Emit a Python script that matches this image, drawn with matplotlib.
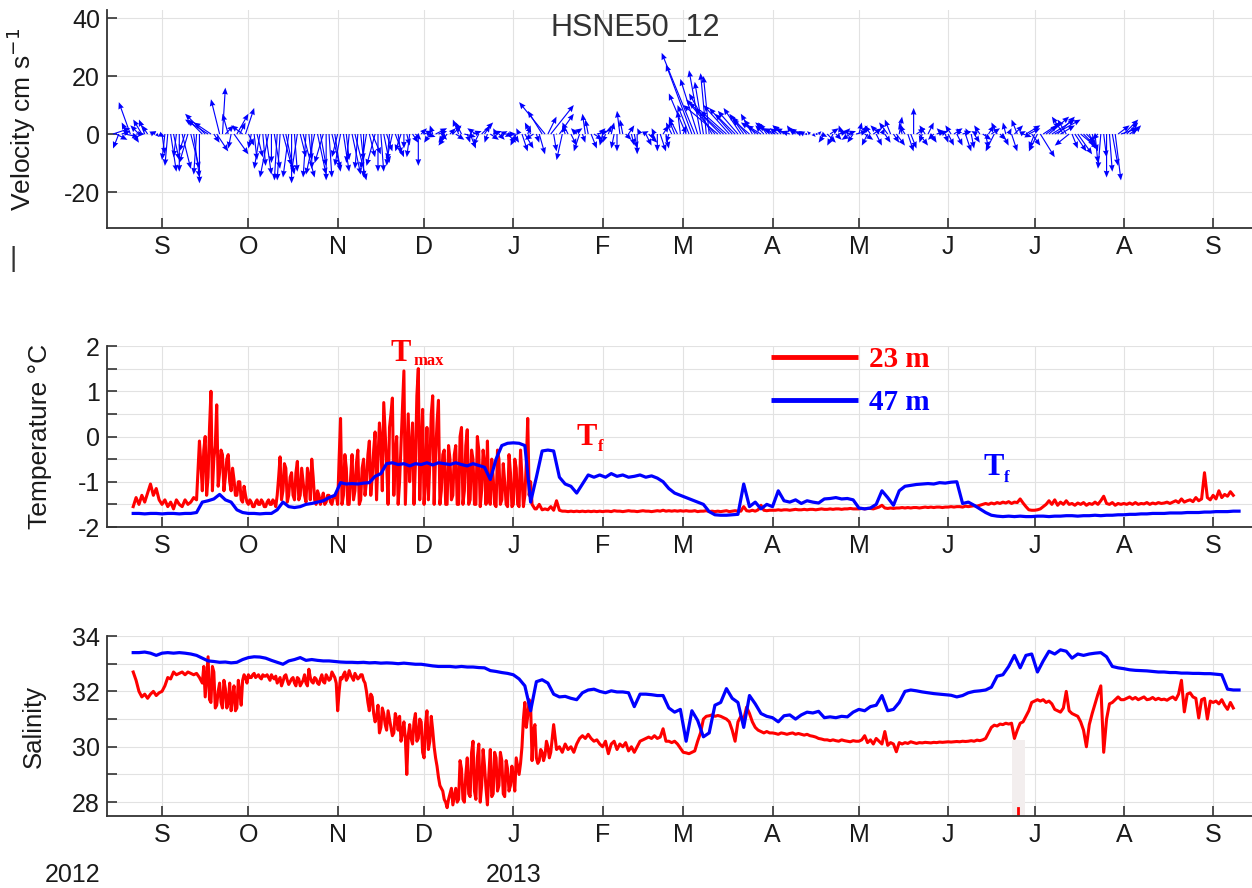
import numpy as np
import matplotlib
matplotlib.use("Agg")
import matplotlib.pyplot as plt
from matplotlib.ticker import FuncFormatter

plt.rcParams['font.family'] = ['Liberation Sans', 'DejaVu Sans']
plt.rcParams['axes.unicode_minus'] = False

# ---------------------------------------------------------------------------
# Time axis: days since 1 Sep 2012
# ---------------------------------------------------------------------------
month_days = [0, 30, 61, 91, 122, 153, 181, 212, 242, 273, 303, 334, 365]
month_labels = ['S', 'O', 'N', 'D', 'J', 'F', 'M', 'A', 'M', 'J', 'J', 'A', 'S']
year_labels = ['2012', '2013']
x_range = (-19.1, 378.5)

# ---------------------------------------------------------------------------
# Current sticks (cm/s): odd days from 15 Aug 2012, even days from 16 Aug 2012
# ---------------------------------------------------------------------------
vel_start, vel_step = -17, 2
vel_u = [6, -2, 5, -4, 3, -3, -2, 1, 2,
         -1, 2, -1, 3, -3, 2, 0, -7,
         -6, 4, 1, -2, 5, 2, 3,
         -1, 2, 1, -3, 2, -1, 3, 0, -2, 4, 1, -3, 2, 0, 3, -2, 2, -1, 4, 1,
         -2, 3, 0, 2, -1, 3, -2, 1, 2, 0,
         3, -2, 4, 2, -3, 3, -2, 4, 2, -3, 4, -1, 3, 2, 4, -2,
         -2, 2, 1, -3, 2, -9, 8, 0, -2, -2, 3, -2, -1, 2, 4,
         -1, 1, -1, -1, 2, 1, 0, 2, 3, -1, 2, 1, -2, -3, 1,
         -4, -11.5, -4, -2, -8, -12, -10, -9, -7,
         -6, -5, -4, -6, -3, -5, -4, -3, -4, -2, -3, -2, -1, 1,
         2, 3, -2, 3, 2, -3, 4, 2, -2, 3, -3, 2, -2, 3, -1, 2, 0, 3, -2, 2,
         3, -2, 2, 3, -1, 2, 1, -2, 3, 2, -3, 2, -1, 2, -2,
         3, 4, -2, 5, 4, 8, 6, -4, -5, 4, 6, 3, 2, -2, 1, 1, 2, 6, 4, 3]
vel_v = [2, -5, -1, 11, 0, 5, 3, 1, -1,
         -9, -13, -8, -12, -10, -15, -17, 7,
         4, -6, 16, 7, -7, 4, 9,
         -5, -8, -11, -15, -12, -16, -14, -17, -13, -15, -9, -14, -11, -16,
         -12, -8, -13, -10, -16, -9, -12, -7, -13, -10, -11, -8, -6, -4, -3, -11,
         1, -3, 2, -2, -4, 3, 5, -1, -5, 2, 4, -3, 1, -2, 0, -1,
         -4, -6, 3, -2, -7, 11, 10, 0, -9, 4, 2, -6, 7, -5, 1,
         -4, 3, -5, 8, -2, -4, -7, 1, -3, 2, -6, -5, 4, 6, 3,
         10, 28, 22, 21, 14, 10, 9, 10, 7,
         9, 6, 7, 4, 3, 4, 2, 3, 2, 3, 2, 1, 1, 0,
         -1, -3, -4, 1, 2, -2, 1, 3, -4, 2, 3, -3, 5, -4, 4, -6, 9, -4, 3, -3,
         1, 2, -4, 2, 2, -6, -5, 1, -2, 3, -6, -2, 4, -6, 5,
         -1, 2, -5, -8, 3, 5, 6, 6, -4, -6, -5, -3, -6, -2, -8, -13, -16, 2, 4, 3]

vel2_start, vel2_step = -16, 2
vel2_u = [4, 3, -2, 2, -3, -2, 2, 1,
          1, -1, 2, 0, -2, 3, -1, -5,
          -8, 2, -3, 3, -1, 4, -4, 2,
          1, -2, 2, 0, -1, 3, -2, 1, 2, -1, 0, 3, -3, 1, 2,
          -2, 1, 3, -1, 0, 2, -3, 1, 2, -2, 1, 0, -1, 2,
          2, 3, -1, 3, -2, 2, 3, -2, 1, 3, -2, 2, 3, -1, 2, 3,
          2, -1, 3, -2, 1, -5, 3, 1, 5, -1, 2, -2, 1, -1, 3,
          2, -1, 1, 0, -1, 2, 1, -1, 2, 1, 0, 2, -1, -2, -1,
          -6, -9, -6, -3, -2, -10, -11, -9, -8,
          -7, -5, -6, -4, -5, -3, -5, -3, -4, -3, -2, -2, -1, 1,
          1, -2, 3, 2, -1, 3, -2, 1, 3, -2, 2, 1, -3, 2, 1, -2, 2, 3,
          -1, 2, -2, 3, 1, -2, 2, 3, -1, 2, -2, 1, 3, -2, 2, 1, 3,
          2, 5, 3, -3, 6, 7, 9, 5, -3, 2, 5, 4, 2, 1, -1, 0, 2, 4, 5, 3]
vel2_v = [-2, 1, 4, -3, 3, 5, 1, -1,
          -7, -11, -9, -13, -6, -12, -14, 5,
          5, -3, 12, 3, -5, 7, 3, -4,
          -9, -12, -14, -10, -16, -11, -15, -13, -8, -15, -12, -14, -10, -15, -13,
          -11, -9, -14, -12, -15, -8, -11, -13, -6, -9, -7, -5, -8, -2,
          2, -1, 3, 1, -3, 2, -2, 4, -3, 1, -4, 3, -2, 2, 1, -3,
          -3, 2, -5, 4, -3, 8, 6, -6, 7, 3, -4, 2, -3, 5, -2,
          2, -3, 4, -6, 5, 3, -5, 2, -4, -2, -6, 3, -3, 5, 8,
          14, 24, 19, 18, 20, 12, 11, 8, 9,
          8, 7, 5, 5, 3, 4, 3, 2, 3, 1, 2, 1, 0, -1,
          1, -3, 2, -2, 3, 1, -3, 4, -2, 3, -4, 2, 4, -3, 6, 3, -5, 2,
          -3, 4, -2, 1, -3, 3, -4, 1, 2, -3, 3, -5, 2, 4, -4, 2, 3,
          1, 3, -4, -6, 4, 6, 5, 3, 5, -5, -7, -4, -5, -10, -12, -15, -11, 3, 5, 2]

# ---------------------------------------------------------------------------
# Temperature (deg C)
# 23 m: daily values from 22 Aug 2012, plus mid-day values through the
#       noisy autumn period; 47 m: every 2 days from 22 Aug 2012
# ---------------------------------------------------------------------------
temp23_start = -10
temp23 = (
    [-1.55, -1.35, -1.5, -1.3, -1.45, -1.25, -1.05, -1.3, -1.15, -1.4]
    # Sep
    + [-1.5, -1.4, -1.55, -1.45, -1.6, -1.4, -1.5, -1.55, -1.4, -1.5,
       -1.45, -1.35, -1.4, -0.1, -1.2, 0.0, -0.9, 1.0, -0.5, 0.7,
       -0.8, -0.4, -0.9, -0.4, -1.2, -0.95, -1.3, -1.0, -1.45, -1.3]
    # Oct
    + [-1.5, -1.45, -1.55, -1.4, -1.5, -1.45, -1.55, -1.4, -1.5, -1.45,
       -1.3, -0.45, -1.2, -0.7, -1.3, -0.8, -1.4, -0.55, -1.3, -1.0,
       -1.45, -0.9, -0.5, -1.4, -1.2, -1.5, -1.25, -1.45, -1.3, -1.5, -1.35]
    # Nov
    + [-1.5, 0.4, -1.3, -0.7, -1.5, -0.4, -1.2, -0.3, -1.4, -0.5,
       -1.0, -0.1, -0.9, 0.1, -0.5, -0.1, 0.75, -0.6, 0.2, 0.85,
       -0.4, -1.5, -0.2, 1.45, -0.5, -1.0, 0.3, -0.6, 1.5, -0.3]
    # Dec
    + [-1.5, 0.2, -0.6, 0.9, -0.4, 0.8, -1.2, -0.3, -1.5, -0.5,
       -1.3, -0.2, -1.5, 0.2, -1.2, 0.15, -1.4, -0.5, -1.5, -0.3,
       -1.2, -0.6, -0.1, -1.5, -0.9, -1.55, -0.5, -1.4, -1.0, -1.55, -0.8]
    # Jan
    + [-1.5, -0.7, -1.55, -0.9, -1.3, 0.4, -1.0, -1.55, -1.6, -1.5,
       -1.62, -1.6, -1.62, -1.55, -1.63, -1.42, -1.63, -1.65, -1.65, -1.66,
       -1.65, -1.66, -1.65, -1.66, -1.65, -1.66, -1.65, -1.66, -1.65, -1.66, -1.65]
    # Feb
    + [-1.66, -1.65, -1.65, -1.66, -1.64, -1.65, -1.65, -1.66, -1.65, -1.64,
       -1.65, -1.65, -1.66, -1.65, -1.64, -1.65, -1.65, -1.66, -1.65, -1.64,
       -1.65, -1.63, -1.65, -1.64, -1.65, -1.64, -1.65, -1.64]
    # Mar
    + [-1.65, -1.64, -1.65, -1.65, -1.64, -1.66, -1.65, -1.65, -1.64, -1.66,
       -1.65, -1.66, -1.65, -1.66, -1.65, -1.64, -1.66, -1.65, -1.64, -1.65,
       -1.65, -1.55, -1.64, -1.65, -1.63, -1.65, -1.62, -1.52, -1.63, -1.64, -1.63]
    # Apr
    + [-1.63, -1.63, -1.62, -1.63, -1.62, -1.62, -1.63, -1.62, -1.61, -1.62,
       -1.62, -1.61, -1.62, -1.61, -1.61, -1.62, -1.61, -1.6, -1.61, -1.61,
       -1.6, -1.61, -1.6, -1.6, -1.61, -1.6, -1.6, -1.59, -1.6, -1.6]
    # May
    + [-1.6, -1.59, -1.6, -1.59, -1.59, -1.6, -1.58, -1.56, -1.52, -1.58,
       -1.59, -1.58, -1.59, -1.58, -1.58, -1.57, -1.58, -1.57, -1.58, -1.57,
       -1.57, -1.58, -1.57, -1.56, -1.57, -1.56, -1.57, -1.56, -1.56, -1.57, -1.56]
    # Jun
    + [-1.56, -1.55, -1.56, -1.55, -1.55, -1.56, -1.54, -1.55, -1.54, -1.53,
       -1.54, -1.52, -1.5, -1.48, -1.5, -1.47, -1.49, -1.46, -1.48, -1.45,
       -1.47, -1.44, -1.48, -1.45, -1.46, -1.38, -1.47, -1.55, -1.62, -1.63]
    # Jul
    + [-1.63, -1.62, -1.6, -1.55, -1.5, -1.42, -1.5, -1.4, -1.52, -1.45,
       -1.5, -1.42, -1.5, -1.48, -1.52, -1.47, -1.5, -1.46, -1.52, -1.48,
       -1.5, -1.45, -1.5, -1.42, -1.32, -1.48, -1.5, -1.46, -1.52, -1.48, -1.5]
    # Aug
    + [-1.48, -1.5, -1.47, -1.5, -1.46, -1.5, -1.48, -1.49, -1.46, -1.5,
       -1.47, -1.49, -1.46, -1.48, -1.47, -1.45, -1.48, -1.45, -1.42, -1.46,
       -1.38, -1.45, -1.42, -1.4, -1.44, -1.35, -1.42, -1.38, -0.8, -1.35, -1.4]
    # Sep
    + [-1.3, -1.38, -1.2, -1.35, -1.28, -1.32, -1.22, -1.3]
)

temp23_mid_start = 13.5
temp23_mid = (
    [-0.6, -0.3, -1.3, 0.2, -1.2, -0.2, -1.1, -0.3, -1.2, -0.5,
     -1.0, -0.7, -1.3, -1.0, -1.4, -1.1, -1.45]
    + [-1.4, -1.55, -1.45, -1.5, -1.4, -1.55, -1.45, -1.5, -1.4, -1.55,
       -0.9, -1.4, -0.6, -1.45, -0.9, -1.3, -0.8, -1.4, -0.7, -1.3,
       -0.7, -1.4, -0.9, -1.5, -1.3, -1.4, -1.5, -1.3, -1.45, -1.35, -1.3]
    + [-0.5, -1.5, -0.4, -1.5, -0.9, -1.4, -0.6, -1.5, -0.7, -1.3,
       -0.4, -1.3, -0.3, -1.4, 0.3, -1.2, 0.1, -1.5, 0.5, -1.3,
       0.0, -1.0, 0.6, -1.5, 0.5, -0.3, -1.5, 0.9, -1.4, 0.6]
    + [-0.9, -1.4, 0.5, -1.5, 0.3, -1.5, -0.4, -1.5, -0.2, -1.4,
       -0.4, -1.5, 0.0, -1.5, -0.2, -1.5, -0.3, -1.5, 0.0, -1.55,
       -0.3, -1.5, -1.4, -0.5, -1.5, -0.3, -1.5, -0.6, -1.5, -0.4, -1.55]
    + [-0.5, -1.5, -0.3, -1.55, -0.6, -1.3, -1.5, -1.6]
)

temp47_start, temp47_step = -10, 2
temp47 = [
    -1.70, -1.70, -1.71, -1.70, -1.70, -1.71, -1.70, -1.70, -1.71, -1.70,
    -1.70, -1.68, -1.45, -1.42, -1.38, -1.28, -1.40, -1.45, -1.62, -1.68,
    -1.70, -1.70, -1.71, -1.70, -1.70, -1.62, -1.45, -1.55, -1.57, -1.55,
    -1.50, -1.48, -1.45, -1.42, -1.35, -1.30, -1.02, -1.05, -1.04, -1.05,
    -1.03, -1.02, -0.88, -0.82, -0.60, -0.58, -0.62, -0.60, -0.65, -0.60,
    -0.62, -0.58, -0.63, -0.58, -0.60, -0.62, -0.58, -0.62, -0.65, -0.60,
    -0.64, -0.68, -0.95, -0.50, -0.20, -0.15, -0.14, -0.15, -0.20, -1.45,
    -0.90, -0.32, -0.30, -0.32, -0.90, -1.05, -1.10, -1.25, -1.05, -0.85,
    -0.90, -0.85, -0.90, -0.82, -0.88, -0.85, -0.90, -0.88, -0.85, -0.90,
    -0.87, -0.92, -1.00, -1.15, -1.25, -1.30, -1.35, -1.40, -1.45, -1.50,
    -1.66, -1.73, -1.74, -1.74, -1.73, -1.72, -1.05, -1.55, -1.45, -1.60,
    -1.50, -1.55, -1.20, -1.42, -1.45, -1.40, -1.48, -1.42, -1.45, -1.47,
    -1.38, -1.37, -1.35, -1.38, -1.37, -1.40, -1.58, -1.60, -1.58, -1.50,
    -1.20, -1.35, -1.52, -1.20, -1.10, -1.08, -1.06, -1.05, -1.04, -1.05,
    -1.02, -1.03, -1.01, -1.00, -1.48, -1.45, -1.52, -1.60, -1.68, -1.74,
    -1.76, -1.77, -1.76, -1.77, -1.76, -1.77, -1.77, -1.76, -1.76, -1.77,
    -1.76, -1.76, -1.75, -1.75, -1.76, -1.75, -1.75, -1.74, -1.75, -1.74,
    -1.74, -1.73, -1.73, -1.72, -1.72, -1.71, -1.71, -1.70, -1.70, -1.70,
    -1.69, -1.69, -1.69, -1.68, -1.68, -1.68, -1.67, -1.67, -1.66, -1.66,
    -1.66, -1.65, -1.65]

# ---------------------------------------------------------------------------
# Salinity
# ---------------------------------------------------------------------------
sal23_start = -10
sal23 = (
    [32.7, 32.4, 32.0, 31.8, 31.9, 31.75, 31.9, 32.0, 31.85, 31.95]
    # Sep
    + [32.0, 32.2, 32.5, 32.45, 32.7, 32.6, 32.65, 32.7, 32.6, 32.7,
       32.65, 32.6, 32.65, 32.5, 32.3, 31.8, 33.25, 31.6, 32.7, 31.5,
       32.3, 31.4, 32.1, 31.6, 31.3, 32.2, 31.4, 32.0, 32.4, 32.5]
    # Oct
    + [32.6, 32.5, 32.65, 32.55, 32.5, 32.6, 32.55, 32.5, 32.6, 32.45,
       32.3, 32.5, 32.35, 32.6, 32.25, 32.45, 32.3, 32.5, 32.2, 32.4,
       32.3, 32.8, 32.35, 32.5, 32.3, 32.45, 32.35, 32.6, 32.4, 32.7, 32.5]
    # Nov
    + [31.3, 32.5, 32.6, 32.4, 32.75, 32.5, 32.65, 32.45, 32.6, 32.4,
       32.0, 31.3, 31.8, 30.9, 31.5, 30.7, 31.2, 30.6, 31.0, 30.4,
       31.2, 30.6, 30.2, 30.9, 29.0, 30.8, 30.1, 31.2, 30.3, 30.9]
    # Dec
    + [29.6, 31.3, 30.2, 30.6, 29.6, 28.9, 28.5, 28.1, 27.8, 28.3,
       27.9, 28.5, 28.1, 29.2, 28.0, 29.6, 28.2, 30.2, 28.1, 30.1,
       28.6, 29.3, 27.9, 29.9, 28.3, 29.6, 28.6, 29.5, 28.2, 29.2, 28.6]
    # Jan
    + [28.9, 29.6, 29.0, 30.0, 31.6, 31.1, 31.5, 30.6, 29.6, 29.5,
       29.8, 29.7, 30.0, 29.8, 30.8, 29.9, 30.0, 29.8, 30.1, 29.9,
       30.0, 29.8, 30.1, 30.3, 30.4, 30.3, 30.45, 30.3, 30.2, 30.25, 30.1]
    # Feb
    + [30.0, 30.2, 29.75, 30.1, 30.2, 29.9, 30.1, 30.0, 30.15, 29.85,
       30.0, 29.8, 30.0, 30.2, 30.25, 30.3, 30.35, 30.3, 30.4, 30.3,
       30.35, 30.65, 30.2, 30.2, 30.15, 30.2, 30.1, 29.95]
    # Mar
    + [29.8, 29.78, 29.75, 29.8, 29.85, 30.2, 30.5, 31.0, 31.1, 31.12,
       31.15, 31.1, 31.13, 31.1, 31.05, 31.0, 30.9, 30.6, 30.2, 30.9,
       31.1, 31.0, 31.43, 31.2, 30.9, 30.7, 30.6, 30.55, 30.5, 30.55, 30.5]
    # Apr
    + [30.5, 30.48, 30.45, 30.5, 30.48, 30.45, 30.48, 30.5, 30.45, 30.48,
       30.45, 30.42, 30.45, 30.4, 30.38, 30.35, 30.3, 30.28, 30.25, 30.25,
       30.22, 30.25, 30.22, 30.2, 30.25, 30.22, 30.2, 30.18, 30.22, 30.2]
    # May
    + [30.2, 30.25, 30.4, 30.15, 30.25, 30.1, 30.3, 30.2, 30.1, 30.55,
       30.05, 30.15, 30.1, 29.82, 30.15, 30.1, 30.15, 30.12, 30.18, 30.15,
       30.12, 30.15, 30.14, 30.16, 30.15, 30.14, 30.16, 30.15, 30.17, 30.16, 30.17]
    # Jun
    + [30.18, 30.17, 30.18, 30.19, 30.18, 30.2, 30.19, 30.2, 30.22, 30.2,
       30.24, 30.22, 30.25, 30.3, 30.5, 30.7, 30.78, 30.75, 30.82, 30.8,
       30.85, 30.82, 30.85, 30.3, 30.6, 30.85, 30.9, 31.1, 31.3, 31.6]
    # Jul
    + [31.65, 31.7, 31.65, 31.7, 31.6, 31.65, 31.55, 31.35, 31.3, 31.25,
       31.4, 32.0, 31.3, 31.2, 31.15, 31.1, 30.9, 30.6, 30.0, 30.8,
       31.2, 31.55, 31.9, 32.2, 29.8, 31.0, 31.55, 31.6, 31.7, 31.8, 31.7]
    # Aug
    + [31.7, 31.75, 31.8, 31.72, 31.78, 31.7, 31.75, 31.8, 31.7, 31.72,
       31.78, 31.7, 31.75, 31.7, 31.72, 31.68, 31.75, 31.8, 31.7, 31.9,
       32.4, 31.26, 31.9, 31.95, 31.8, 31.75, 31.04, 31.7, 31.75, 31.0, 31.65]
    # Sep
    + [31.6, 31.65, 31.55, 31.7, 31.5, 31.35, 31.6, 31.4]
)

sal23_mid_start = 14.5
sal23_mid = (
    [32.9, 32.5, 31.7, 32.9, 31.4, 32.0, 31.6, 32.4, 31.4, 32.3,
     31.8, 31.3, 32.4, 31.5, 32.6, 32.3]
    + [32.5, 32.6, 32.5, 32.6, 32.45, 32.55, 32.6, 32.4, 32.5, 32.55,
       32.4, 32.2, 32.55, 32.4, 32.35, 32.5, 32.2, 32.45, 32.3, 32.6,
       32.2, 32.5, 32.3, 32.45, 32.25, 32.6, 32.3, 32.5, 32.45, 32.6,
       32.3, 32.0, 32.45, 32.7, 32.5, 32.6, 32.4, 32.55, 32.5, 32.6]
    + [32.3, 31.6, 31.9, 31.2, 31.1, 30.5, 31.4, 30.8, 31.3, 30.7,
       30.5, 31.0, 31.1, 30.5, 30.3, 30.4, 30.3, 30.9, 30.2, 31.0, 29.8]
    + [30.8, 29.9, 31.1, 30.0, 29.3, 28.6, 28.4, 28.0, 28.1, 28.5,
       28.2, 28.0, 29.5, 28.1, 29.0, 28.3, 29.8, 28.4, 29.6, 28.0,
       29.9, 28.5, 29.0, 28.2, 29.8, 28.4, 29.8, 28.3, 29.5, 28.4, 29.3]
    + [28.4, 29.3, 29.4, 31.0, 30.7, 31.7, 29.5, 30.8, 29.4, 29.9,
       29.5, 30.2, 29.6, 30.3]
)

sal47_start, sal47_step = -10, 2
sal47 = [
    33.40, 33.40, 33.42, 33.38, 33.30, 33.38, 33.40, 33.38, 33.40, 33.38,
    33.35, 33.30, 33.20, 33.10, 33.08, 33.05, 33.06, 33.03, 33.05, 33.15,
    33.22, 33.25, 33.24, 33.20, 33.12, 33.05, 32.98, 33.10, 33.15, 33.22,
    33.12, 33.15, 33.12, 33.10, 33.10, 33.08, 33.06, 33.05, 33.05, 33.04,
    33.05, 33.03, 33.04, 33.02, 33.03, 33.02, 33.00, 33.02, 33.00, 32.98,
    32.98, 32.95, 32.92, 32.90, 32.90, 32.90, 32.88, 32.90, 32.88, 32.88,
    32.86, 32.85, 32.75, 32.72, 32.68, 32.65, 32.60, 32.45, 32.20, 31.30,
    32.35, 32.42, 32.30, 31.90, 31.80, 31.82, 31.75, 31.70, 31.95, 32.05,
    32.08, 32.00, 31.95, 32.02, 31.98, 31.98, 31.95, 31.45, 31.90, 31.90,
    31.88, 31.85, 31.85, 31.40, 31.25, 31.35, 30.20, 31.30, 30.95, 30.36,
    30.50, 31.50, 31.60, 32.10, 31.75, 31.60, 30.70, 31.85, 31.55, 31.20,
    31.10, 31.05, 30.90, 31.12, 31.15, 31.00, 31.15, 31.25, 31.22, 31.28,
    31.05, 31.08, 31.05, 31.10, 31.08, 31.25, 31.35, 31.30, 31.45, 31.50,
    31.85, 31.30, 31.35, 31.60, 32.00, 32.05, 32.02, 31.98, 31.95, 31.92,
    31.90, 31.88, 31.86, 31.80, 31.85, 31.95, 32.00, 32.02, 32.05, 32.15,
    32.55, 32.60, 32.90, 33.30, 32.85, 33.30, 33.35, 32.70, 33.10, 33.45,
    33.35, 33.50, 33.45, 33.20, 33.35, 33.30, 33.35, 33.38, 33.40, 33.25,
    32.90, 32.85, 32.82, 32.78, 32.76, 32.75, 32.74, 32.72, 32.70, 32.70,
    32.68, 32.68, 32.66, 32.66, 32.65, 32.65, 32.64, 32.64, 32.62, 32.60,
    32.08, 32.05, 32.05]

# Short gap in the 23 m salinity record (late June 2013)
sal_gap_days = (295.1, 299.7)
sal_gap_top = 30.25
sal_gap_tick_day = 297.2

# ---------------------------------------------------------------------------
RED = '#ff0000'
BLUE = '#0000ff'
INK = '#333333'
W, H = 1252, 888

fig = plt.figure(figsize=(W / 100, H / 100), dpi=100)
fig.patch.set_facecolor('white')


def add_panel(top_px, bottom_px):
    return fig.add_axes([107 / W, 1 - bottom_px / H, 1145 / W, (bottom_px - top_px) / H])


def style(ax):
    for s in ('top', 'right'):
        ax.spines[s].set_visible(False)
    for s in ('left', 'bottom'):
        ax.spines[s].set_color(INK)
        ax.spines[s].set_linewidth(1.3)
    ax.set_xlim(*x_range)
    ax.set_xticks(month_days)
    ax.set_xticklabels(month_labels)
    ax.tick_params(direction='in', length=7, width=1.2, color=INK,
                   labelcolor='#1a1a1a', labelsize=18)
    ax.tick_params(axis='x', pad=5)
    ax.tick_params(axis='y', pad=5)
    ax.grid(True, color='#e2e2e2', linewidth=0.8)
    ax.set_axisbelow(True)


def merged(start, step, values, mid_start, mid_values):
    """Combine a regular series with its extra mid-step samples, in time order."""
    t = np.concatenate([start + step * np.arange(len(values)),
                        mid_start + step * np.arange(len(mid_values))])
    y = np.concatenate([values, mid_values])
    order = np.argsort(t, kind='stable')
    return t[order], y[order]


# --- Velocity sticks ------------------------------------------------------
ax1 = add_panel(10, 228)
style(ax1)
t_vel = np.concatenate([vel_start + vel_step * np.arange(len(vel_u)),
                        vel2_start + vel2_step * np.arange(len(vel2_u))])
u_all = np.concatenate([vel_u, vel2_u])
v_all = np.concatenate([vel_v, vel2_v])
ax1.quiver(t_vel, np.zeros(len(t_vel)), u_all, v_all, angles='xy',
           scale_units='xy', scale=1, color=BLUE, width=0.0010,
           headwidth=5, headlength=6, headaxislength=5.5, zorder=3)
ax1.set_ylim(-32.4, 42.76)
ax1.set_yticks([-20, 0, 20, 40])
ax1.set_ylabel('Velocity cm s$^{-1}$', fontsize=19, color='#1a1a1a')
ax1.yaxis.set_label_coords(-0.060, 0.5)

# --- Temperature ----------------------------------------------------------
ax2 = add_panel(346, 527)
style(ax2)
t23, y23 = merged(temp23_start, 1, temp23, temp23_mid_start, temp23_mid)
t47 = temp47_start + temp47_step * np.arange(len(temp47))
ax2.plot(t23, y23, color=RED, linewidth=2.2, zorder=2)
ax2.plot(t47, temp47, color=BLUE, linewidth=2.3, zorder=3)
ax2.set_ylim(-2, 2)
ax2.set_yticks(np.arange(-2, 2.01, 0.5))
ax2.yaxis.set_major_formatter(FuncFormatter(
    lambda v, p: f"{int(round(v))}" if abs(v - round(v)) < 1e-6 else ""))
ax2.set_ylabel('Temperature \u00b0C', fontsize=19, color='#1a1a1a')
ax2.yaxis.set_label_coords(-0.048, 0.5)

# legend drawn in data space
leg_x0, leg_x1, leg_text_x = 211.5, 241.7, 245.5
leg_items = [('23 m', RED, 1.75), ('47 m', BLUE, 0.80)]
for label, col, yv in leg_items:
    ax2.plot([leg_x0, leg_x1], [yv, yv], color=col, linewidth=3.5,
             solid_capstyle='butt', zorder=4, clip_on=False)
    ax2.text(leg_text_x, yv - 0.05, label, color=col, fontsize=21,
             fontweight='bold', family=['Liberation Serif', 'DejaVu Serif'],
             va='center', ha='left', zorder=4)

# annotations: (letter x, baseline, subscript x, subscript baseline, subscript, colour)
annotations = [
    (79.5, 1.66, 87.4, 1.59, 'max', RED),
    (144.1, -0.18, 151.3, -0.31, 'f', RED),
    (285.4, -0.86, 292.4, -1.00, 'f', BLUE),
]
for tx, ty, sx, sy, sub, col in annotations:
    ax2.text(tx, ty, 'T', color=col, fontsize=22, fontweight='bold',
             family=['Liberation Serif', 'DejaVu Serif'], va='baseline',
             ha='left', zorder=5, clip_on=False)
    ax2.text(sx, sy, sub, color=col, fontsize=12, fontweight='bold',
             family=['Liberation Serif', 'DejaVu Serif'], va='baseline',
             ha='left', zorder=5, clip_on=False)

# --- Salinity -------------------------------------------------------------
ax3 = add_panel(636, 816)
style(ax3)
s23, z23 = merged(sal23_start, 1, sal23, sal23_mid_start, sal23_mid)
s47 = sal47_start + sal47_step * np.arange(len(sal47))
ax3.set_ylim(27.5, 34)
ax3.axvspan(*sal_gap_days, ymin=0, ymax=(sal_gap_top - 27.5) / 6.5,
            color='#f3eeee', zorder=1, linewidth=0)
ax3.plot([sal_gap_tick_day, sal_gap_tick_day], [27.5, 27.8], color=RED,
         linewidth=2.0, zorder=2)
ax3.plot(s23, z23, color=RED, linewidth=2.2, zorder=2)
ax3.plot(s47, sal47, color=BLUE, linewidth=2.3, zorder=3)
ax3.set_yticks(np.arange(28, 34.01, 1))
ax3.yaxis.set_major_formatter(FuncFormatter(
    lambda v, p: f"{int(round(v))}" if int(round(v)) % 2 == 0 else ""))
ax3.set_ylabel('Salinity', fontsize=18.5, color='#1a1a1a')
ax3.yaxis.set_label_coords(-0.053, 0.5)

# --- Figure-level text ----------------------------------------------------
fig.text(635 / W, 1 - 28 / H, 'HSNE50_12', fontsize=22, color=INK,
         ha='center', va='center')
fig.text(73 / W, 1 - 875 / H, year_labels[0], fontsize=18, color='#1a1a1a',
         ha='center', va='center')
fig.text(514 / W, 1 - 875 / H, year_labels[1], fontsize=18, color='#1a1a1a',
         ha='center', va='center')
fig.text(13 / W, 1 - 259 / H, '|', fontsize=20, color=INK,
         ha='center', va='center')

fig.savefig('out.png', dpi=100)
